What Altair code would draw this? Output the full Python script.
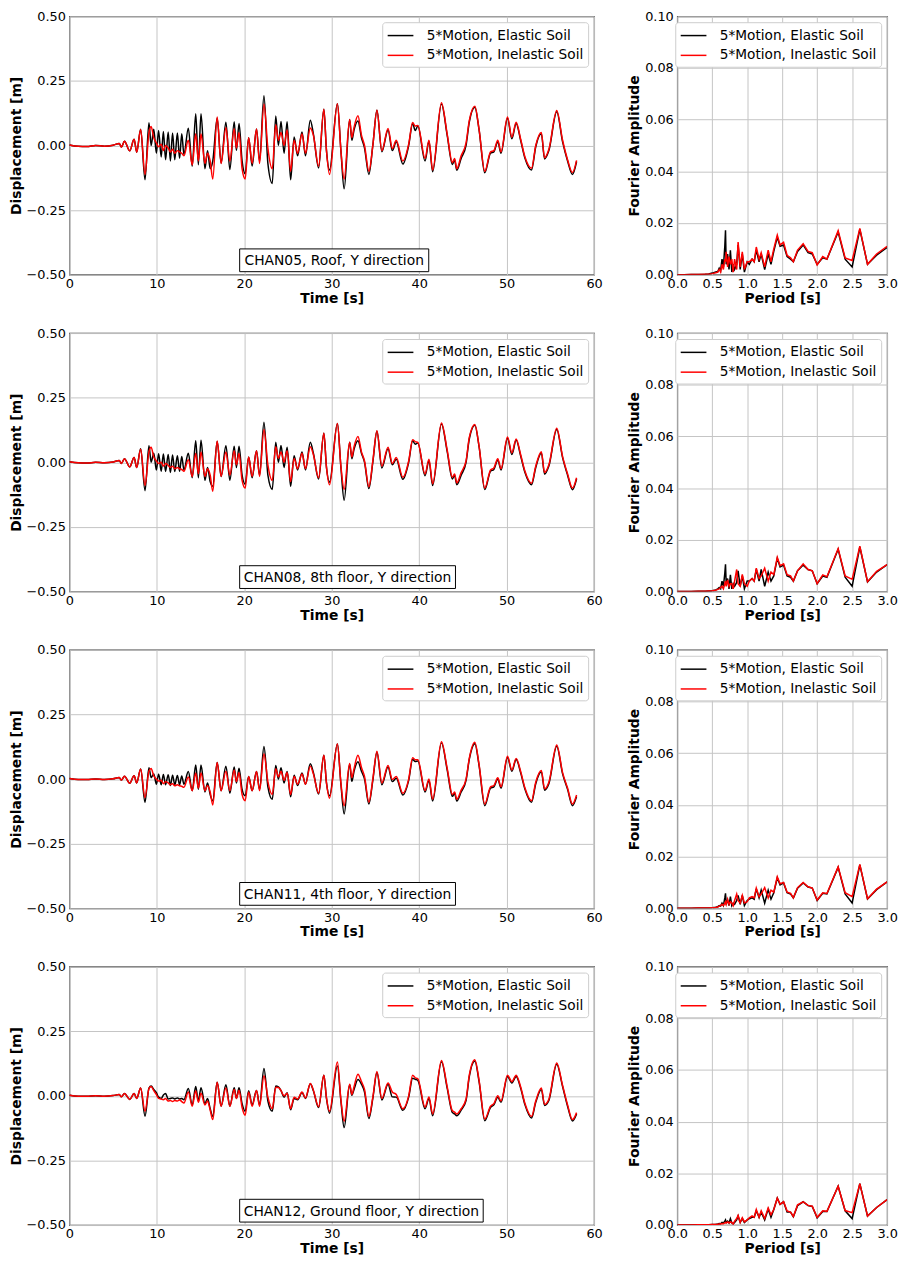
import altair as alt
import pandas as pd

FONT = "DejaVu Sans"
SERIES = ["5*Motion, Elastic Soil", "5*Motion, Inelastic Soil"]
COLORS = ["#000000", "#ff0000"]

# ---------------- time axis (s) shared by all displacement histories ----------------
time_s = [
    0, 1, 2, 3, 4, 5, 5.7, 5.95, 6.3, 6.9, 7.4, 7.7,
    8.15, 8.65, 9.1, 9.35, 9.65, 9.95, 10.2, 10.5, 10.75, 11.0,
    11.3, 11.55, 11.8, 12.05, 12.35, 12.6, 12.85, 13.1, 13.6, 14.05,
    14.45, 14.75, 15.05, 15.5, 15.8, 16.1, 16.4, 16.9, 17.35, 17.9,
    18.35, 18.85, 19.1, 19.4, 19.75, 20.1, 20.5, 20.9, 21.4, 21.75,
    22.25, 22.7, 23.2, 23.6, 23.9, 24.2, 24.55, 24.9, 25.3, 25.7,
    26.1, 26.6, 27.0, 27.55, 27.9, 28.5, 29.1, 29.4, 29.75, 30.65,
    31.05, 31.42, 32.05, 32.3, 32.55, 33.0, 33.4, 33.75, 34.25, 34.7,
    35.17, 35.73, 36.44, 36.93, 37.38, 38.13, 38.8, 39.25, 39.55, 39.85,
    40.67, 41.12, 41.54, 42.55, 43.2, 43.8, 44.05, 44.3, 44.8, 45.36,
    45.73, 46.37, 46.85, 47.5, 48.16, 48.54, 48.99, 49.36, 50.1, 50.6,
    51.09, 51.6, 52.1, 52.85, 53.33, 53.97, 54.34, 54.83, 55.73, 56.4,
    56.97, 57.53, 58.0,
]

# CHAN05 roof
disp_el_1 = [
    0.002, -0.003, -0.004, 0.0, -0.003, 0.001, 0.008, -0.006, 0.016, -0.021, 0.024, -0.026,
    0.063, -0.133, 0.088, 0.0, 0.063, -0.03, 0.058, -0.045, 0.054, -0.055,
    0.052, -0.06, 0.048, -0.055, 0.048, -0.05, 0.045, -0.035, 0.067, -0.08,
    0.123, -0.075, 0.123, -0.09, -0.02, -0.09, -0.06, 0.105, -0.068, 0.09,
    -0.093, 0.092, -0.02, 0.085, -0.06, -0.11, 0.03, -0.08, 0.064, -0.06,
    0.192, -0.07, -0.147, 0.114, 0.0, 0.093, -0.03, 0.092, -0.133, 0.033,
    -0.04, 0.052, -0.04, 0.098, 0.045, -0.087, 0.14, -0.02, -0.095, 0.161,
    -0.02, -0.168, 0.1, 0.02, 0.06, 0.095, 0.03, -0.01, -0.112, 0.0,
    0.136, -0.024, 0.06, -0.02, 0.014, -0.072, 0.0, 0.085, 0.058, 0.075,
    -0.06, 0.016, -0.102, 0.16, 0.04, -0.074, -0.055, -0.096, -0.05, 0.0,
    0.09, 0.148, 0.06, -0.106, -0.03, -0.025, 0.014, -0.03, 0.105, 0.026,
    0.085, 0.02, -0.05, -0.095, -0.005, 0.045, -0.052, -0.02, 0.13, 0.014,
    -0.06, -0.112, -0.062,
]
disp_in_1 = [
    0.002, -0.003, -0.004, 0.0, -0.003, 0.001, 0.008, -0.006, 0.016, -0.021, 0.024, -0.026,
    0.062, -0.112, 0.05, 0.073, 0.03, 0.01, -0.005, 0.005, -0.02, 0.0,
    -0.01, -0.025, -0.015, -0.03, -0.02, -0.025, -0.03, -0.04, 0.02, -0.075,
    0.045, -0.06, 0.045, -0.07, -0.03, -0.06, -0.13, 0.11, -0.07, 0.07,
    -0.06, 0.065, -0.01, 0.05, -0.09, -0.13, 0.03, -0.07, 0.064, -0.07,
    0.16, -0.01, -0.09, 0.08, 0.02, 0.05, 0.0, 0.06, -0.1, 0.02,
    -0.03, 0.045, -0.03, 0.068, 0.04, -0.08, 0.14, -0.02, -0.112, 0.161,
    -0.02, -0.13, 0.1, 0.03, 0.07, 0.115, 0.04, 0.0, -0.1, 0.0,
    0.136, -0.02, 0.066, -0.012, 0.02, -0.06, 0.005, 0.089, 0.075, 0.077,
    -0.05, 0.02, -0.095, 0.165, 0.045, -0.066, -0.05, -0.09, -0.04, 0.01,
    0.096, 0.152, 0.062, -0.1, -0.025, -0.02, 0.02, -0.025, 0.11, 0.032,
    0.09, 0.025, -0.045, -0.088, 0.0, 0.05, -0.048, -0.015, 0.135, 0.02,
    -0.055, -0.105, -0.058,
]

# CHAN08 8th floor
disp_el_2 = [
    0.002, -0.002, -0.003, 0.0, -0.002, 0.001, 0.007, -0.005, 0.014, -0.018, 0.018, -0.02,
    0.052, -0.11, 0.064, 0.0, 0.035, -0.03, 0.033, -0.035, 0.032, -0.036,
    0.03, -0.04, 0.028, -0.036, 0.025, -0.035, 0.022, -0.03, 0.035, -0.06,
    0.083, -0.06, 0.085, -0.07, -0.02, -0.075, -0.093, 0.08, -0.055, 0.064,
    -0.07, 0.062, -0.02, 0.062, -0.05, -0.085, 0.02, -0.06, 0.045, -0.05,
    0.155, -0.05, -0.105, 0.077, 0.0, 0.065, -0.02, 0.058, -0.093, 0.025,
    -0.03, 0.04, -0.03, 0.077, 0.035, -0.065, 0.112, -0.02, -0.077, 0.15,
    -0.02, -0.147, 0.077, 0.014, 0.05, 0.083, 0.035, 0.0, -0.102, 0.0,
    0.12, -0.022, 0.052, -0.01, 0.012, -0.066, 0.0, 0.083, 0.07, 0.074,
    -0.052, 0.006, -0.09, 0.148, 0.042, -0.065, -0.05, -0.087, -0.05, 0.0,
    0.09, 0.143, 0.06, -0.105, -0.035, -0.028, 0.009, -0.03, 0.093, 0.03,
    0.086, 0.025, -0.04, -0.087, -0.02, 0.036, -0.046, -0.015, 0.127, 0.018,
    -0.05, -0.106, -0.065,
]
disp_in_2 = [
    0.002, -0.002, -0.003, 0.0, -0.002, 0.001, 0.007, -0.005, 0.014, -0.018, 0.018, -0.02,
    0.05, -0.09, 0.04, 0.058, 0.02, 0.005, -0.005, 0.0, -0.015, -0.005,
    -0.012, -0.02, -0.015, -0.025, -0.02, -0.025, -0.028, -0.035, 0.01, -0.055,
    0.035, -0.045, 0.04, -0.055, -0.025, -0.05, -0.112, 0.082, -0.055, 0.04,
    -0.05, 0.045, -0.01, 0.035, -0.07, -0.1, 0.02, -0.055, 0.045, -0.055,
    0.127, -0.01, -0.07, 0.06, 0.015, 0.04, 0.0, 0.045, -0.075, 0.015,
    -0.025, 0.035, -0.025, 0.06, 0.03, -0.06, 0.112, -0.02, -0.087, 0.15,
    -0.015, -0.105, 0.077, 0.02, 0.06, 0.1, 0.04, 0.005, -0.095, 0.005,
    0.122, -0.015, 0.058, -0.005, 0.018, -0.058, 0.005, 0.087, 0.08, 0.077,
    -0.045, 0.012, -0.083, 0.152, 0.048, -0.058, -0.045, -0.08, -0.04, 0.005,
    0.096, 0.146, 0.062, -0.1, -0.03, -0.022, 0.014, -0.025, 0.098, 0.036,
    0.09, 0.03, -0.035, -0.081, -0.015, 0.041, -0.04, -0.01, 0.132, 0.022,
    -0.045, -0.1, -0.06,
]

# CHAN11 4th floor
disp_el_3 = [
    0.002, -0.002, -0.002, 0.0, -0.002, 0.001, 0.006, -0.004, 0.011, -0.016, 0.013, -0.015,
    0.039, -0.09, 0.044, 0.005, 0.02, -0.02, 0.019, -0.022, 0.018, -0.022,
    0.017, -0.025, 0.015, -0.022, 0.014, -0.022, 0.012, -0.02, 0.029, -0.045,
    0.054, -0.04, 0.054, -0.05, -0.015, -0.06, -0.084, 0.064, -0.045, 0.05,
    -0.055, 0.047, -0.015, 0.042, -0.04, -0.065, 0.01, -0.045, 0.029, -0.04,
    0.126, -0.03, -0.078, 0.052, 0.0, 0.044, -0.015, 0.029, -0.069, 0.015,
    -0.025, 0.023, -0.02, 0.059, 0.025, -0.058, 0.092, -0.015, -0.065, 0.136,
    -0.02, -0.135, 0.057, -0.009, 0.03, 0.067, 0.03, 0.0, -0.097, -0.005,
    0.104, -0.022, 0.047, -0.01, 0.003, -0.062, -0.005, 0.076, 0.068, 0.07,
    -0.05, -0.006, -0.085, 0.14, 0.036, -0.067, -0.055, -0.085, -0.05, -0.005,
    0.076, 0.137, 0.052, -0.103, -0.035, -0.03, 0.0, -0.035, 0.083, 0.03,
    0.076, 0.025, -0.04, -0.09, -0.018, 0.028, -0.043, -0.018, 0.127, 0.02,
    -0.04, -0.103, -0.068,
]
disp_in_3 = [
    0.002, -0.002, -0.002, 0.0, -0.002, 0.001, 0.006, -0.004, 0.011, -0.016, 0.013, -0.015,
    0.039, -0.072, 0.03, 0.041, 0.012, 0.0, -0.008, -0.005, -0.018, -0.01,
    -0.015, -0.022, -0.018, -0.026, -0.022, -0.026, -0.028, -0.032, 0.008, -0.045,
    0.023, -0.035, 0.023, -0.045, -0.025, -0.05, -0.1, 0.064, -0.045, 0.03,
    -0.045, 0.035, -0.01, 0.025, -0.06, -0.084, 0.01, -0.045, 0.029, -0.045,
    0.098, -0.01, -0.06, 0.04, 0.008, 0.03, -0.005, 0.025, -0.06, 0.01,
    -0.02, 0.02, -0.02, 0.05, 0.02, -0.055, 0.092, -0.015, -0.074, 0.136,
    -0.015, -0.103, 0.06, 0.005, 0.04, 0.092, 0.045, 0.01, -0.09, 0.0,
    0.108, -0.015, 0.052, -0.002, 0.01, -0.055, 0.0, 0.082, 0.075, 0.075,
    -0.044, 0.0, -0.078, 0.144, 0.042, -0.06, -0.05, -0.078, -0.043, 0.0,
    0.08, 0.142, 0.056, -0.097, -0.03, -0.025, 0.005, -0.03, 0.088, 0.035,
    0.08, 0.03, -0.035, -0.084, -0.012, 0.033, -0.038, -0.012, 0.132, 0.025,
    -0.035, -0.097, -0.062,
]

# CHAN12 ground floor
disp_el_4 = [
    0.002, -0.002, -0.002, 0.0, -0.002, 0.001, 0.005, -0.004, 0.009, -0.014, 0.009, -0.01,
    0.03, -0.079, 0.03, 0.038, 0.025, 0.012, -0.005, -0.01, 0.003, 0.009,
    -0.012, -0.01, -0.008, -0.012, -0.008, -0.012, -0.01, -0.015, 0.028, -0.035,
    0.036, -0.02, 0.031, -0.03, -0.01, -0.05, -0.079, 0.053, -0.04, 0.043,
    -0.04, 0.031, -0.01, 0.031, -0.03, -0.06, 0.02, -0.035, 0.021, -0.035,
    0.106, -0.02, -0.06, 0.038, 0.035, 0.02, -0.005, 0.012, -0.054, -0.01,
    -0.015, 0.013, -0.01, 0.047, 0.02, -0.045, 0.08, -0.01, -0.067, 0.116,
    -0.02, -0.123, 0.043, 0.002, 0.025, 0.063, 0.045, 0.015, -0.088, -0.01,
    0.09, -0.016, 0.045, -0.004, -0.005, -0.056, -0.005, 0.068, 0.064, 0.06,
    -0.05, -0.01, -0.077, 0.132, 0.03, -0.065, -0.07, -0.077, -0.055, -0.018,
    0.074, 0.135, 0.055, -0.096, -0.045, -0.035, -0.005, -0.025, 0.075, 0.05,
    0.075, 0.03, -0.035, -0.086, -0.025, 0.025, -0.037, -0.018, 0.122, 0.036,
    -0.04, -0.097, -0.07,
]
disp_in_4 = [
    0.002, -0.002, -0.002, 0.0, -0.002, 0.001, 0.005, -0.004, 0.009, -0.014, 0.009, -0.01,
    0.03, -0.06, 0.028, 0.036, 0.02, 0.005, -0.01, -0.012, -0.015, -0.01,
    -0.02, -0.018, -0.022, -0.018, -0.02, -0.016, -0.022, -0.028, 0.015, -0.04,
    0.02, -0.025, 0.01, -0.035, -0.02, -0.055, -0.092, 0.053, -0.04, 0.03,
    -0.04, 0.025, -0.01, 0.022, -0.045, -0.075, 0.015, -0.04, 0.021, -0.04,
    0.078, -0.005, -0.05, 0.033, 0.032, 0.02, 0.0, 0.01, -0.05, -0.005,
    -0.012, 0.015, -0.008, 0.048, 0.022, -0.042, 0.08, -0.008, -0.06, 0.131,
    -0.015, -0.098, 0.045, 0.005, 0.035, 0.084, 0.055, 0.025, -0.08, -0.005,
    0.094, -0.01, 0.05, 0.015, 0.005, -0.05, 0.0, 0.08, 0.07, 0.066,
    -0.044, -0.004, -0.07, 0.137, 0.036, -0.058, -0.063, -0.07, -0.05, -0.012,
    0.08, 0.14, 0.06, -0.09, -0.04, -0.03, 0.0, -0.02, 0.08, 0.055,
    0.08, 0.035, -0.03, -0.08, -0.02, 0.03, -0.033, -0.013, 0.127, 0.04,
    -0.035, -0.092, -0.065,
]

# ---------------- Fourier amplitude spectra ----------------
period_s = [
    0, 0.1, 0.2, 0.3, 0.4, 0.45, 0.5, 0.55, 0.58, 0.6,
    0.62, 0.64, 0.66, 0.68, 0.69, 0.70, 0.72, 0.74, 0.76, 0.78,
    0.80, 0.82, 0.85, 0.87, 0.90, 0.93, 0.96, 1.0, 1.03, 1.07,
    1.1, 1.13, 1.17, 1.2, 1.25, 1.3, 1.34, 1.38, 1.43, 1.47,
    1.52, 1.57, 1.62, 1.66, 1.72, 1.8, 1.87, 1.93, 2.0, 2.08,
    2.14, 2.3, 2.4, 2.5, 2.61, 2.72, 2.85, 3.0,
]
four_el_1 = [
    0, 0.0, 0.0001, 0.0001, 0.0002, 0.0003, 0.0006, 0.001, 0.0012, 0.0025,
    0.0015, 0.006, 0.003, 0.011, 0.0172, 0.004, 0.008, 0.002, 0.0094, 0.001,
    0.004, 0.002, 0.004, 0.0115, 0.002, 0.008, 0.001, 0.005, 0.004, 0.006,
    0.005, 0.0095, 0.005, 0.008, 0.002, 0.008, 0.004, 0.009, 0.0145, 0.011,
    0.0115, 0.007, 0.006, 0.005, 0.009, 0.0115, 0.0085, 0.008, 0.004, 0.0065,
    0.006, 0.0165, 0.006, 0.003, 0.0175, 0.004, 0.0075, 0.0105,
]
four_in_1 = [
    0, 0, 0.0001, 0.0001, 0.0002, 0.0002, 0.0004, 0.0007, 0.001, 0.002,
    0.001, 0.004, 0.002, 0.006, 0.005, 0.0088, 0.003, 0.007, 0.004, 0.006,
    0.001, 0.006, 0.002, 0.0126, 0.003, 0.0088, 0.002, 0.005, 0.005, 0.006,
    0.005, 0.0107, 0.006, 0.0085, 0.003, 0.0095, 0.005, 0.01, 0.0153, 0.0115,
    0.0125, 0.0075, 0.0065, 0.005, 0.0095, 0.012, 0.009, 0.0085, 0.0038, 0.007,
    0.006, 0.017, 0.0065, 0.0055, 0.0179, 0.004, 0.008, 0.011,
]
four_el_2 = [
    0, 0, 0, 0.0001, 0.0001, 0.0002, 0.0003, 0.0006, 0.001, 0.0015,
    0.001, 0.004, 0.002, 0.007, 0.0105, 0.003, 0.005, 0.001, 0.0064, 0.001,
    0.003, 0.002, 0.0035, 0.008, 0.002, 0.006, 0.001, 0.004, 0.004, 0.005,
    0.004, 0.0085, 0.004, 0.0085, 0.002, 0.0075, 0.004, 0.006, 0.0128, 0.0095,
    0.0102, 0.006, 0.0055, 0.004, 0.008, 0.0102, 0.0085, 0.008, 0.003, 0.006,
    0.0055, 0.0163, 0.0055, 0.002, 0.0172, 0.0037, 0.0075, 0.0104,
]
four_in_2 = [
    0, 0, 0, 0.0001, 0.0001, 0.0002, 0.0003, 0.0005, 0.0008, 0.001,
    0.0015, 0.002, 0.001, 0.003, 0.004, 0.002, 0.0045, 0.002, 0.003, 0.003,
    0.001, 0.004, 0.0085, 0.003, 0.002, 0.0066, 0.003, 0.002, 0.004, 0.005,
    0.004, 0.009, 0.005, 0.006, 0.009, 0.004, 0.0075, 0.0065, 0.0132, 0.01,
    0.0107, 0.0065, 0.006, 0.004, 0.008, 0.0107, 0.0085, 0.008, 0.003, 0.0064,
    0.0057, 0.0166, 0.006, 0.0047, 0.0175, 0.0038, 0.0078, 0.0104,
]
four_el_3 = [
    0, 0, 0, 0.0001, 0.0001, 0.0001, 0.0002, 0.0004, 0.0006, 0.001,
    0.0008, 0.002, 0.001, 0.004, 0.0058, 0.002, 0.003, 0.001, 0.0045, 0.001,
    0.002, 0.0015, 0.003, 0.005, 0.0015, 0.005, 0.001, 0.003, 0.0035, 0.004,
    0.0035, 0.0075, 0.004, 0.007, 0.002, 0.007, 0.0035, 0.006, 0.0118, 0.009,
    0.0098, 0.006, 0.0055, 0.004, 0.0078, 0.0098, 0.0082, 0.0078, 0.003, 0.0058,
    0.0055, 0.0158, 0.0055, 0.002, 0.0168, 0.0036, 0.0072, 0.0102,
]
four_in_3 = [
    0, 0, 0, 0.0001, 0.0001, 0.0001, 0.0002, 0.0003, 0.0005, 0.0008,
    0.001, 0.0015, 0.001, 0.002, 0.0025, 0.0015, 0.0035, 0.0015, 0.0025, 0.002,
    0.001, 0.003, 0.0055, 0.003, 0.002, 0.005, 0.002, 0.0025, 0.004, 0.0045,
    0.004, 0.0078, 0.0045, 0.0055, 0.008, 0.004, 0.007, 0.0062, 0.0122, 0.0095,
    0.01, 0.0062, 0.0058, 0.004, 0.008, 0.01, 0.0083, 0.0078, 0.0032, 0.006,
    0.0057, 0.016, 0.006, 0.0045, 0.017, 0.0037, 0.0074, 0.0102,
]
four_el_4 = [
    0, 0, 0, 0.0001, 0.0001, 0.0001, 0.0002, 0.0003, 0.0004, 0.0006,
    0.0005, 0.001, 0.0008, 0.0015, 0.002, 0.001, 0.0015, 0.0008, 0.0025, 0.0008,
    0.0005, 0.001, 0.002, 0.0035, 0.001, 0.0025, 0.001, 0.002, 0.0025, 0.003,
    0.003, 0.0055, 0.003, 0.005, 0.002, 0.0062, 0.003, 0.006, 0.0104, 0.008,
    0.009, 0.005, 0.005, 0.0032, 0.0075, 0.009, 0.0075, 0.0072, 0.0028, 0.0052,
    0.0052, 0.015, 0.0055, 0.0025, 0.016, 0.0035, 0.0068, 0.0098,
]
four_in_4 = [
    0, 0, 0, 0.0001, 0.0001, 0.0001, 0.0002, 0.0002, 0.0003, 0.0004,
    0.0004, 0.0006, 0.0005, 0.0008, 0.001, 0.0008, 0.0012, 0.0008, 0.0012, 0.001,
    0.0004, 0.0015, 0.0025, 0.0037, 0.001, 0.0028, 0.0012, 0.002, 0.0028, 0.0035,
    0.003, 0.006, 0.003, 0.0055, 0.0025, 0.0066, 0.004, 0.006, 0.0104, 0.008,
    0.009, 0.0055, 0.005, 0.0033, 0.0078, 0.009, 0.0076, 0.0073, 0.003, 0.0055,
    0.0053, 0.015, 0.0056, 0.0048, 0.016, 0.0035, 0.0068, 0.0098,
]

channel_labels = [
    "CHAN05, Roof, Y direction",
    "CHAN08, 8th floor, Y direction",
    "CHAN11, 4th floor, Y direction",
    "CHAN12, Ground floor, Y direction",
]
rows = [
    (disp_el_1, disp_in_1, four_el_1, four_in_1),
    (disp_el_2, disp_in_2, four_el_2, four_in_2),
    (disp_el_3, disp_in_3, four_el_3, four_in_3),
    (disp_el_4, disp_in_4, four_el_4, four_in_4),
]

# ---------------- layout / style constants ----------------
LEFT_W, RIGHT_W, PANEL_H = 530, 212, 261
BOX_X, BOX_Y0, BOX_Y1 = 172, 235, 258
BOX_W = [191, 218, 218, 246]

color_scale = alt.Scale(domain=SERIES, range=COLORS)


def make_legend():
    return alt.Legend(
        title=None, orient="top-right", offset=6, fillColor="white",
        strokeColor="#cccccc", cornerRadius=3, padding=4, rowPadding=3,
        symbolType="M-1.5,0H1.5", symbolSize=300, symbolStrokeWidth=1.5,
        symbolOffset=5, labelOffset=17, labelFont=FONT, labelFontSize=13.8,
        labelColor="black", labelLimit=400,
    )


def xaxis(values, fmt, title):
    return alt.Axis(values=values, format=fmt, title=title, titlePadding=1, labelPadding=3,
                    labelFlush=False, labelOverlap=False)


def yaxis(values, fmt, title):
    return alt.Axis(values=values, format=fmt, title=title, titlePadding=3, labelPadding=4,
                    labelFlush=False, labelOverlap=False)


def long_df(xs, a, b, xname, yname):
    n = len(xs)
    return pd.DataFrame({
        xname: list(xs) + list(xs),
        yname: list(a) + list(b),
        "series": [SERIES[0]] * n + [SERIES[1]] * n,
    })


def left_panel(i):
    el, inel, _, _ = rows[i]
    df = long_df(time_s, el, inel, "t", "d")
    lines = alt.Chart(df).mark_line(strokeWidth=1.5, interpolate="monotone", clip=True).encode(
        x=alt.X("t:Q", scale=alt.Scale(domain=[0, 60], nice=False),
                axis=xaxis([0, 10, 20, 30, 40, 50, 60], "d", "Time [s]")),
        y=alt.Y("d:Q", scale=alt.Scale(domain=[-0.5, 0.5], nice=False),
                axis=yaxis([-0.5, -0.25, 0, 0.25, 0.5], ".2f", "Displacement [m]")),
        color=alt.Color("series:N", scale=color_scale, legend=make_legend()),
    )
    ann = pd.DataFrame({"label": [channel_labels[i]]})
    w = BOX_W[i]
    box = alt.Chart(ann).mark_rect(fill="white", stroke="black", strokeWidth=1).encode(
        x=alt.value(BOX_X), x2=alt.value(BOX_X + w),
        y=alt.value(BOX_Y0), y2=alt.value(BOX_Y1),
    )
    txt = alt.Chart(ann).mark_text(font=FONT, fontSize=14, color="black",
                                   align="center", baseline="middle").encode(
        x=alt.value(BOX_X + w / 2), y=alt.value((BOX_Y0 + BOX_Y1) / 2 + 1),
        text="label:N",
    )
    return alt.layer(lines, box, txt).properties(width=LEFT_W, height=PANEL_H)


def right_panel(i):
    _, _, fel, finel = rows[i]
    df = long_df(period_s, fel, finel, "p", "a")
    return alt.Chart(df).mark_line(strokeWidth=1.5, clip=True).encode(
        x=alt.X("p:Q", scale=alt.Scale(domain=[0, 3], nice=False),
                axis=xaxis([0, 0.5, 1.0, 1.5, 2.0, 2.5, 3.0], ".1f", "Period [s]")),
        y=alt.Y("a:Q", scale=alt.Scale(domain=[0, 0.1], nice=False),
                axis=yaxis([0, 0.02, 0.04, 0.06, 0.08, 0.1], ".2f", "Fourier Amplitude")),
        color=alt.Color("series:N", scale=color_scale, legend=make_legend()),
    ).properties(width=RIGHT_W, height=PANEL_H)


row_charts = []
for i in range(4):
    row_charts.append(
        alt.hconcat(left_panel(i), right_panel(i), spacing=24)
        .resolve_scale(color="independent")
        .resolve_legend(color="independent")
    )

chart = (
    alt.vconcat(*row_charts, spacing=20)
    .resolve_scale(color="independent")
    .resolve_legend(color="independent")
    .properties(padding={"left": 0, "top": -5, "right": 0, "bottom": 0}, background="white")
    .configure_view(stroke="#333333", strokeWidth=1.2)
    .configure_axis(
        labelFont=FONT, labelFontSize=13, labelColor="black",
        titleFont=FONT, titleFontSize=14, titleFontWeight="bold", titleColor="black",
        gridColor="#c4c4c4", gridWidth=1, ticks=False, domain=False,
    )
)

chart.save("out.html", embed_options={"renderer": "svg", "actions": False})
